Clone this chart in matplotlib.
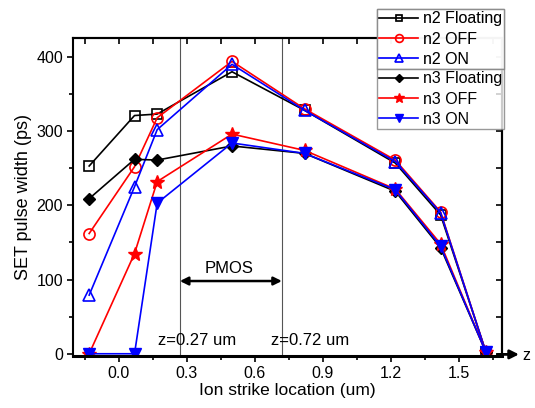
import matplotlib.pyplot as plt
from matplotlib.ticker import MultipleLocator

plt.rcParams['font.family'] = ['Liberation Sans', 'DejaVu Sans']

x = [-0.13, 0.07, 0.17, 0.5, 0.82, 1.22, 1.42, 1.62]
n2_floating = [253, 321, 323, 380, 328, 257, 187, 2]
n2_off = [162, 252, 318, 394, 330, 261, 191, 2]
n2_on = [79, 225, 302, 390, 328, 259, 190, 2]
n3_floating = [209, 262, 261, 280, 270, 219, 143, 2]
n3_off = [0, 135, 232, 296, 274, 222, 148, 2]
n3_on = [0, 0, 203, 284, 270, 221, 145, 2]

fig = plt.figure(figsize=(5.35, 4.08), dpi=100)
ax = fig.add_axes([0.137, 0.1275, 0.801, 0.7785])

lw = 1.2
h1, = ax.plot(x, n2_floating, 'k-', marker='s', mfc='none', mew=1.2, ms=7, lw=lw, label='n2 Floating')
h2, = ax.plot(x, n2_off, '-', color='red', marker='o', mfc='none', mew=1.2, ms=8, lw=lw, label='n2 OFF')
h3, = ax.plot(x, n2_on, '-', color='blue', marker='^', mfc='none', mew=1.2, ms=8.5, lw=lw, label='n2 ON')
h4, = ax.plot(x, n3_floating, 'k-', marker='D', ms=6.5, lw=lw, label='n3 Floating')
h5, = ax.plot(x, n3_off, '-', color='red', marker='*', ms=10, lw=lw, label='n3 OFF')
h6, = ax.plot(x, n3_on, '-', color='blue', marker='v', ms=8, lw=lw, label='n3 ON')

for zx in [0.27, 0.72]:
    ax.axvline(zx, color='#555555', lw=0.8, zorder=0)

ax.annotate('', xy=(0.27, 98), xytext=(0.72, 98),
            arrowprops=dict(arrowstyle='<|-|>', color='black', lw=1.8, mutation_scale=12, shrinkA=0, shrinkB=0))
ax.text(0.485, 109, 'PMOS', ha='center', va='baseline', fontsize=12)
ax.text(0.175, 12, 'z=0.27 um', ha='left', va='baseline', fontsize=12)
ax.text(0.67, 12, 'z=0.72 um', ha='left', va='baseline', fontsize=12)

ax.set_xlim(-0.2, 1.69)
ax.set_ylim(-3, 425)
ax.set_xticks([0.0, 0.3, 0.6, 0.9, 1.2, 1.5])
ax.set_xticklabels(['0.0', '0.3', '0.6', '0.9', '1.2', '1.5'])
ax.xaxis.set_minor_locator(MultipleLocator(0.15))
ax.yaxis.set_major_locator(MultipleLocator(100))
ax.yaxis.set_minor_locator(MultipleLocator(50))
ax.tick_params(which='both', direction='out', length=4, width=1.2, labelsize=11.5, top=False, right=False)
ax.tick_params(which='minor', length=3)

for side in ['left', 'right', 'top']:
    ax.spines[side].set_linewidth(1.5)
ax.spines['bottom'].set_linewidth(2.2)

# inward ticks on top and right
sec_top = ax.secondary_xaxis('top')
sec_top.xaxis.set_major_locator(MultipleLocator(0.3))
sec_top.xaxis.set_minor_locator(MultipleLocator(0.15))
sec_top.tick_params(which='both', direction='in', length=4, width=1.2, labeltop=False)
sec_top.spines['top'].set_linewidth(1.5)
sec_right = ax.secondary_yaxis('right')
sec_right.yaxis.set_major_locator(MultipleLocator(100))
sec_right.yaxis.set_minor_locator(MultipleLocator(50))
sec_right.tick_params(which='both', direction='in', length=4, width=1.2, labelright=False)
sec_right.spines['right'].set_linewidth(1.5)

ax.annotate('', xy=(1.04, 0.005), xytext=(0.99, 0.005), xycoords='axes fraction',
            arrowprops=dict(arrowstyle='-|>', color='black', lw=2, mutation_scale=13, shrinkA=0, shrinkB=0),
            annotation_clip=False)
fig.text(522 / 535, 0.1275, 'z', ha='left', va='center', fontsize=11.5)

ax.set_xlabel('Ion strike location (um)', fontsize=12.5, labelpad=1)
ax.set_ylabel('SET pulse width (ps)', fontsize=13, labelpad=3)

leg_kw = dict(loc='upper left', fontsize=11.5, frameon=True, fancybox=False, edgecolor='#808080',
              handlelength=2.4, handletextpad=0.3, borderpad=0.15, labelspacing=0.32,
              borderaxespad=0, markerscale=0.7)
leg1 = fig.legend(handles=[h1, h2, h3], bbox_to_anchor=(377 / 535, 1 - 9 / 408), **leg_kw)
leg1.get_frame().set_linewidth(1.0)
leg2 = fig.legend(handles=[h4, h5, h6], bbox_to_anchor=(377 / 535, 1 - 69 / 408), **leg_kw)
leg2.get_frame().set_linewidth(1.0)
fig.add_artist(leg1)

fig.savefig('out.png', dpi=100)
